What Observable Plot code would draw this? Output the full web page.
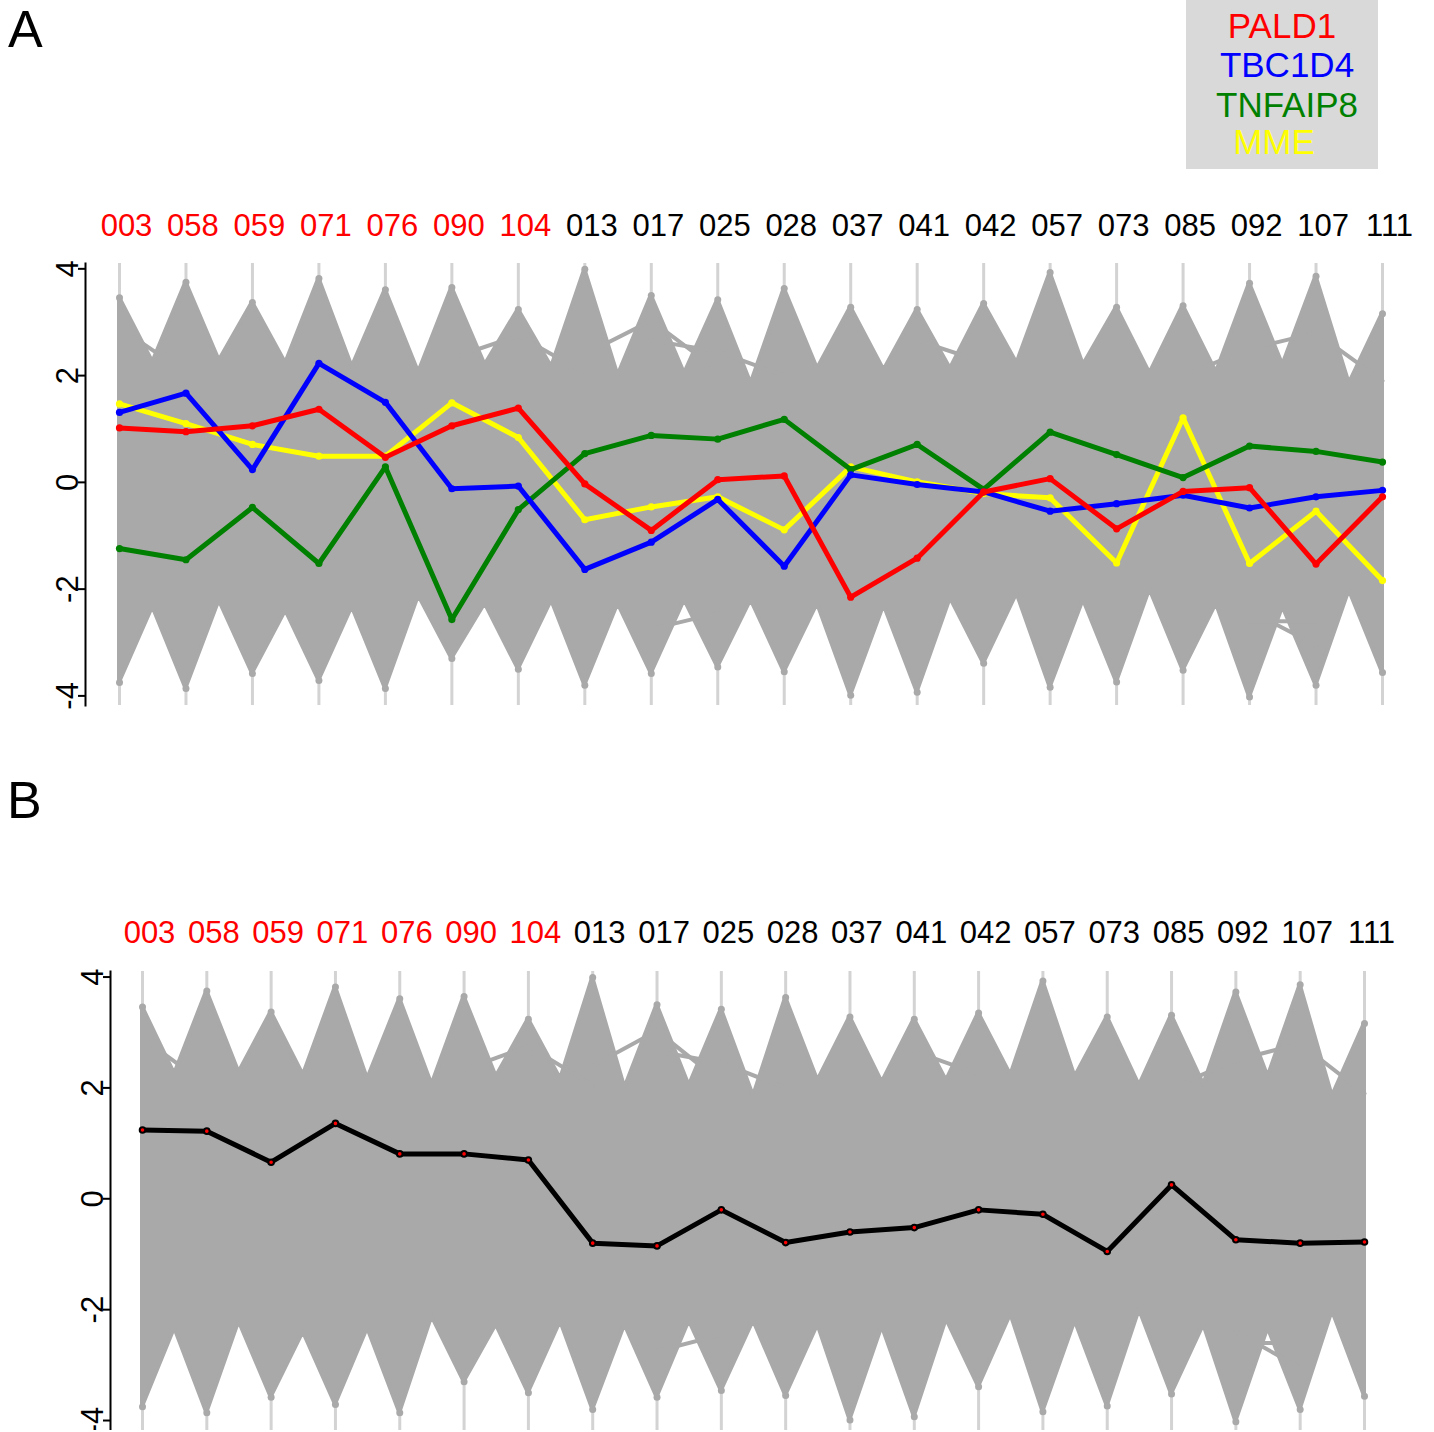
<!DOCTYPE html>
<html>
<head>
<meta charset="utf-8">
<script src="https://cdn.jsdelivr.net/npm/d3@7"></script>
<script src="https://cdn.jsdelivr.net/npm/@observablehq/plot@0.6"></script>
<style>
  body { margin: 0; background: #fff; }
  #page { position: relative; width: 1434px; height: 1432px; overflow: hidden; font-family: "Liberation Sans", Arial, sans-serif; }
  .letter { position: absolute; font-family: "Liberation Sans", Arial, sans-serif; font-size: 52px; line-height: 1; color: #000; }
  .chart { position: absolute; left: 0; }
  #legend { position: absolute; left: 1186px; top: 0; width: 192px; height: 169px; background: #d9d9d9; }
  .leg { position: absolute; font-family: "Liberation Sans", Arial, sans-serif; font-size: 35px; line-height: 1; transform: translateX(-50%); white-space: nowrap; }
</style>
</head>
<body>
<div id="page">
  <div id="chartA" class="chart" style="top:0px"></div>
  <div id="chartB" class="chart" style="top:740px"></div>
  <div class="letter" style="left:8px;top:3px">A</div>
  <div class="letter" style="left:7px;top:774px">B</div>
  <div id="legend"></div>
</div>
<script>
// ---------- data ----------
const samples = ["003","058","059","071","076","090","104","013","017","025","028","037","041","042","057","073","085","092","107","111"];
const redSamples = ["003","058","059","071","076","090","104"];

// grey background genes: envelope (max / min per sample, valleys between samples)
const greyMax = [3.46,3.75,3.37,3.82,3.61,3.65,3.24,3.99,3.50,3.42,3.63,3.28,3.24,3.35,3.93,3.28,3.31,3.73,3.86,3.16];
const greyMin = [-3.75,-3.86,-3.58,-3.71,-3.86,-3.30,-3.50,-3.80,-3.58,-3.46,-3.55,-3.99,-3.93,-3.39,-3.84,-3.74,-3.52,-4.02,-3.80,-3.56];
const greyValleyTop = [2.25,2.28,2.23,2.16,2.06,2.20,2.16,2.00,2.04,1.85,2.13,2.10,2.13,2.23,2.20,2.04,2.06,2.20,1.85];
const greyValleyBottom = [-2.33,-2.21,-2.40,-2.33,-2.12,-2.27,-2.21,-2.27,-2.20,-2.20,-2.27,-2.30,-2.17,-2.08,-2.20,-2.00,-2.27,-2.33,-2.02];
// a few stray grey lines that stand out of the envelope
const greyOutliers = [
  {id:"o1", sample:"003", value:2.90}, {id:"o1", sample:"058", value:2.05},
  {id:"o2", sample:"090", value:2.33}, {id:"o2", sample:"104", value:2.75}, {id:"o2", sample:"013", value:2.05},
  {id:"o3", sample:"013", value:2.40}, {id:"o3", sample:"017", value:3.03}, {id:"o3", sample:"025", value:2.10},
  {id:"o4", sample:"017", value:2.66}, {id:"o4", sample:"025", value:2.45}, {id:"o4", sample:"028", value:2.00},
  {id:"o5", sample:"041", value:2.66}, {id:"o5", sample:"042", value:2.25},
  {id:"o6", sample:"085", value:2.00}, {id:"o6", sample:"092", value:2.50}, {id:"o6", sample:"107", value:2.80}, {id:"o6", sample:"111", value:1.90},
  {id:"b1", sample:"092", value:-2.40}, {id:"b1", sample:"107", value:-3.05},
  {id:"b2", sample:"092", value:-2.60}, {id:"b2", sample:"107", value:-2.60},
  {id:"b3", sample:"017", value:-2.75}, {id:"b3", sample:"025", value:-2.45}
];

// highlighted genes (panel A)
const PALD1   = [1.02,0.95,1.06,1.37,0.47,1.06,1.39,-0.03,-0.90,0.05,0.12,-2.15,-1.42,-0.18,0.07,-0.87,-0.17,-0.10,-1.53,-0.27];
const TBC1D4  = [1.31,1.67,0.24,2.23,1.50,-0.12,-0.07,-1.63,-1.12,-0.32,-1.57,0.14,-0.04,-0.18,-0.54,-0.40,-0.24,-0.48,-0.27,-0.15];
const TNFAIP8 = [-1.24,-1.45,-0.47,-1.52,0.29,-2.57,-0.51,0.54,0.88,0.81,1.18,0.24,0.71,-0.13,0.94,0.52,0.09,0.68,0.58,0.38];
const MME     = [1.47,1.10,0.71,0.49,0.49,1.49,0.84,-0.70,-0.46,-0.27,-0.89,0.29,0.01,-0.21,-0.29,-1.51,1.21,-1.52,-0.54,-1.84];
// panel B summary line
const summaryB = [1.24,1.22,0.66,1.36,0.81,0.81,0.70,-0.80,-0.85,-0.20,-0.79,-0.60,-0.52,-0.20,-0.28,-0.95,0.25,-0.74,-0.80,-0.78];

const legendGenes = ["PALD1","TBC1D4","TNFAIP8","MME"];
const legendColors = ["#ff0000","#0000ff","#008000","#ffff00"];
const yTicks = [-4,-2,0,2,4];

// ---------- derived tables ----------
const idx = samples.map((s, i) => i);
const sIndex = new Map(samples.map((s, i) => [s, i]));
const envelope = [];
samples.forEach((s, i) => {
  envelope.push({x: i, lo: greyMin[i], hi: greyMax[i]});
  if (i < samples.length - 1) envelope.push({x: i + 0.5, lo: greyValleyBottom[i], hi: greyValleyTop[i]});
});
const peaks = samples.flatMap((s, i) => [{x: i, v: greyMax[i]}, {x: i, v: greyMin[i]}]);
const outl = greyOutliers.map(d => ({id: d.id, x: sIndex.get(d.sample), v: d.value}));
const series = (arr) => arr.map((v, i) => ({x: i, v}));
const redIdx = idx.filter(i => redSamples.includes(samples[i]));
const blackIdx = idx.filter(i => !redSamples.includes(samples[i]));

const GREY = "#a9a9a9";

function baseMarks() {
  return [
    Plot.ruleX(idx, {x: d => d, stroke: "#d3d3d3", strokeWidth: 3}),
    Plot.areaY(envelope, {x: "x", y1: "lo", y2: "hi", fill: GREY, stroke: GREY, strokeWidth: 4, strokeLinejoin: "round", curve: "linear"}),
    Plot.line(outl, {x: "x", y: "v", z: "id", stroke: GREY, strokeWidth: 4, strokeLinejoin: "round"}),
    Plot.dot(peaks, {x: "x", y: "v", r: 3.5, fill: GREY})
  ];
}
function axes(tickPadTop) {
  return [
    Plot.frame({anchor: "left", stroke: "#000", strokeWidth: 2}),
    Plot.axisY(yTicks, {anchor: "left", label: null, tickSize: 7, tickPadding: 1, tickRotate: -90, strokeWidth: 2,
      tickFormat: d => String(d), fontSize: 31, fill: "#000", fontFamily: "Liberation Sans"}),
    Plot.axisX(redIdx, {anchor: "top", label: null, tickSize: 0, tickPadding: tickPadTop, tickFormat: i => samples[i],
      fontSize: 31, fill: "#ff0000", dx: 7, fontFamily: "Liberation Sans"}),
    Plot.axisX(blackIdx, {anchor: "top", label: null, tickSize: 0, tickPadding: tickPadTop, tickFormat: i => samples[i],
      fontSize: 31, fill: "#000000", dx: 7, fontFamily: "Liberation Sans"})
  ];
}
function geneMarks(arr, color) {
  return [
    Plot.line(series(arr), {x: "x", y: "v", stroke: color, strokeWidth: 5, strokeLinejoin: "round"}),
    Plot.dot(series(arr), {x: "x", y: "v", r: 3.6, fill: color})
  ];
}

// ---------- panel A ----------
const chartA = Plot.plot({
  width: 1434, height: 720,
  marginTop: 263, marginBottom: 15, marginLeft: 85, marginRight: 20,
  x: {domain: [0, 19], range: [119, 1382], axis: null, label: null},
  y: {domain: [-4.18, 4.10], axis: null, label: null},
  style: {background: "transparent", fontFamily: "Liberation Sans"},
  marks: [
    ...baseMarks(),
    ...geneMarks(MME, legendColors[3]),
    ...geneMarks(TNFAIP8, legendColors[2]),
    ...geneMarks(TBC1D4, legendColors[1]),
    ...geneMarks(PALD1, legendColors[0]),
    ...axes(28)
  ]
});
document.getElementById("chartA").appendChild(chartA);

// ---------- panel B ----------
const chartB = Plot.plot({
  width: 1434, height: 690,
  marginTop: 231, marginBottom: 0, marginLeft: 110, marginRight: 40,
  x: {domain: [0, 19], range: [142, 1364], axis: null, label: null},
  y: {domain: [-4.18, 4.10], axis: null, label: null},
  style: {background: "transparent", fontFamily: "Liberation Sans"},
  marks: [
    ...baseMarks(),
    Plot.line(series(summaryB), {x: "x", y: "v", stroke: "#000", strokeWidth: 5, strokeLinejoin: "round"}),
    Plot.dot(series(summaryB), {x: "x", y: "v", r: 2.8, fill: "#ff0000", stroke: "#000", strokeWidth: 2}),
    ...axes(29)
  ]
});
document.getElementById("chartB").appendChild(chartB);

// ---------- legend ----------
const legend = document.getElementById("legend");
const legendCenters = [96, 101, 101, 88];
const legendTops = [8, 47, 87, 124];
legendGenes.forEach((g, i) => {
  const el = document.createElement("div");
  el.className = "leg";
  el.textContent = g;
  el.style.color = legendColors[i];
  el.style.left = legendCenters[i] + "px";
  el.style.top = legendTops[i] + "px";
  legend.appendChild(el);
});
</script>
</body>
</html>
